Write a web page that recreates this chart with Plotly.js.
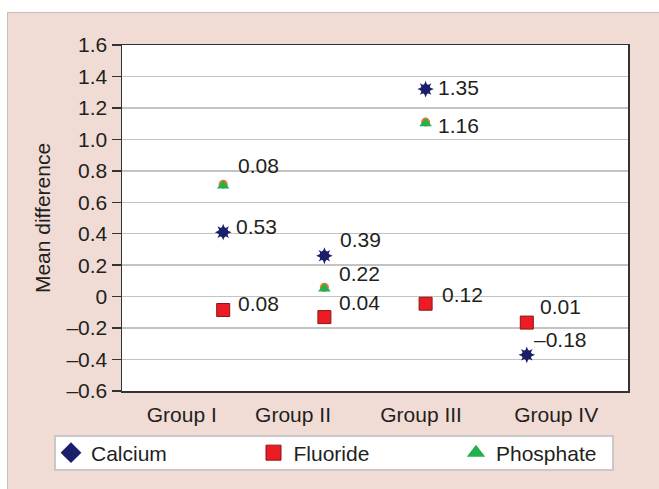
<!DOCTYPE html>
<html>
<head>
<meta charset="utf-8">
<script src="https://cdn.plot.ly/plotly-3.0.1.min.js"></script>
<style>
  html, body { margin: 0; padding: 0; background: #ffffff; width: 659px; height: 489px; overflow: hidden; }
  #panel { position: absolute; left: 7px; top: 12px; width: 652px; height: 477px;
           background: #f0dcd4; border-left: 1px solid #c4c0be; border-top: 1px solid #c4c0be; }
  #chart { position: absolute; left: 0; top: 0; width: 651px; height: 476px; }
</style>
</head>
<body>
<div id="panel"><div id="chart"></div></div>
<script>
// ---- data ----
const groups = ['Group I', 'Group II', 'Group III', 'Group IV'];
const groupIndex = [1, 2, 3, 4];
const calcium   = [0.41, 0.26, 1.32, -0.37];
const fluoride  = [-0.085, -0.13, -0.045, -0.165];
const phosphate = [0.715, 0.06, 1.11, null];
const calciumLabels   = ['0.53', '0.39', '1.35', '\u20130.18'];
const fluorideLabels  = ['0.08', '0.04', '0.12', '0.01'];
const phosphateLabels = ['0.08', '0.22', '1.16', null];
const yTickVals  = [-0.6, -0.4, -0.2, 0, 0.2, 0.4, 0.6, 0.8, 1.0, 1.2, 1.4, 1.6];
const yTickText  = ['\u20130.6', '\u20130.4', '\u20130.2', '0', '0.2', '0.4', '0.6', '0.8', '1.0', '1.2', '1.4', '1.6'];
const seriesNames = ['Calcium', 'Fluoride', 'Phosphate'];

// ---- styling / placement ----
const FONT = 'Liberation Sans, Arial, Helvetica, sans-serif';
const TXT = '#231f20';
const NAVY = '#1b1f6b', RED = '#ec1c24', REDLINE = '#8c1515', GREEN = '#22b14c', ORANGE = '#e07a2e';
const groupLabelPos = [0.59, 1.69, 2.955, 4.29];
// label offsets in pixels [right, up]
const calOff = [[12, 6], [15, 16], [11, 2], [6, 15]];
const fluOff = [[14, 7], [14, 15], [15, 9], [12, 16]];
const phoOff = [[14, 19], [14, 14], [11, -3], [0, 0]];

const traces = [
  // Calcium: round blob with small spikes
  { x: groupIndex, y: calcium, type: 'scatter', mode: 'markers', showlegend: false, hoverinfo: 'skip',
    marker: { symbol: 'star-diamond', size: 12, color: NAVY, line: { width: 0 } } },
  { x: groupIndex, y: calcium, type: 'scatter', mode: 'markers', showlegend: false, hoverinfo: 'skip',
    marker: { symbol: 'star-square', size: 10.5, color: NAVY, line: { width: 0 } } },
  { x: groupIndex, y: calcium, type: 'scatter', mode: 'markers', showlegend: false,
    marker: { symbol: 'circle', size: 9.5, color: NAVY, line: { width: 0 } } },
  // Fluoride
  { x: groupIndex, y: fluoride, type: 'scatter', mode: 'markers', showlegend: false,
    marker: { symbol: 'square', size: 13, color: RED, line: { width: 1, color: REDLINE } } },
  // Phosphate: orange dot behind a green triangle (triangle sits slightly lower, on the overlay axis)
  { x: groupIndex, y: phosphate, type: 'scatter', mode: 'markers', showlegend: false, hoverinfo: 'skip',
    marker: { symbol: 'circle', size: 9, color: ORANGE, line: { width: 0 } } },
  { x: groupIndex, y: phosphate, type: 'scatter', mode: 'markers', showlegend: false, yaxis: 'y2',
    marker: { symbol: 'triangle-up', size: 11, color: GREEN, line: { width: 0 } } },
  // legend entries
  { x: [null], y: [null], type: 'scatter', mode: 'markers', name: seriesNames[0],
    marker: { symbol: 'diamond', size: 16, color: NAVY } },
  { x: [null], y: [null], type: 'scatter', mode: 'markers', name: seriesNames[1],
    marker: { symbol: 'square', size: 15, color: RED, line: { width: 1, color: REDLINE } } },
  { x: [null], y: [null], type: 'scatter', mode: 'markers', name: seriesNames[2],
    marker: { symbol: 'triangle-up', size: 16, color: GREEN } }
];

const annotations = [];
function addLabels(values, labels, offs) {
  values.forEach((v, i) => {
    if (v === null || labels[i] === null) return;
    annotations.push({
      x: groupIndex[i], y: v, xref: 'x', yref: 'y', text: labels[i], showarrow: false,
      xanchor: 'left', yanchor: 'middle', xshift: offs[i][0], yshift: offs[i][1],
      font: { family: FONT, size: 21, color: TXT }, borderpad: 0
    });
  });
}
addLabels(calcium, calciumLabels, calOff);
addLabels(fluoride, fluorideLabels, fluOff);
addLabels(phosphate, phosphateLabels, phoOff);

const shiftDown = 1.5 / 157.3;
const PW = 506, PH = 346, PL = 122, PT = 45; // plot area in page pixels
const px = v => (v - PL) / PW;
const py = v => 1 - (v - PT) / PH;

const layout = {
  width: 651, height: 476,
  margin: { l: 114, r: 31, t: 32, b: 98 },
  paper_bgcolor: 'rgba(0,0,0,0)', plot_bgcolor: '#ffffff',
  font: { family: FONT, size: 21, color: TXT },
  xaxis: {
    range: [0, 5], tickmode: 'array', tickvals: groupLabelPos, ticktext: groups,
    ticks: '', showgrid: false, zeroline: false, ticklabelstandoff: 4,
    showline: true, mirror: true, linecolor: '#333333', linewidth: 1.5,
    tickfont: { family: FONT, size: 21, color: TXT }, fixedrange: true
  },
  yaxis: {
    range: [-0.6, 1.6], tickmode: 'array', tickvals: yTickVals, ticktext: yTickText,
    ticks: 'outside', ticklen: 9, tickwidth: 1.5, tickcolor: '#333333',
    showgrid: true, gridcolor: '#c3c3c3', gridwidth: 1.5, zeroline: false,
    showline: true, mirror: true, linecolor: '#333333', linewidth: 1.5,
    tickfont: { family: FONT, size: 21, color: TXT },
    title: { text: 'Mean difference', font: { family: FONT, size: 21, color: TXT }, standoff: 10 }
  },
  yaxis2: {
    range: [-0.6 + shiftDown, 1.6 + shiftDown], overlaying: 'y', visible: false, fixedrange: true
  },
  shapes: [{
    type: 'rect', xref: 'paper', yref: 'paper', layer: 'above',
    x0: px(55), x1: px(613), y0: py(470), y1: py(436),
    fillcolor: '#ffffff', line: { color: '#c8c8c8', width: 2 }
  }],
  showlegend: true,
  legend: {
    orientation: 'h', x: px(61), y: py(453), xanchor: 'left', yanchor: 'middle',
    bgcolor: 'rgba(0,0,0,0)', borderwidth: 0,
    font: { family: FONT, size: 21, color: TXT },
    entrywidth: 157.5, entrywidthmode: 'pixels', itemsizing: 'trace'
  },
  annotations: annotations
};

Plotly.newPlot('chart', traces, layout, { displayModeBar: false, staticPlot: true });
</script>
</body>
</html>
